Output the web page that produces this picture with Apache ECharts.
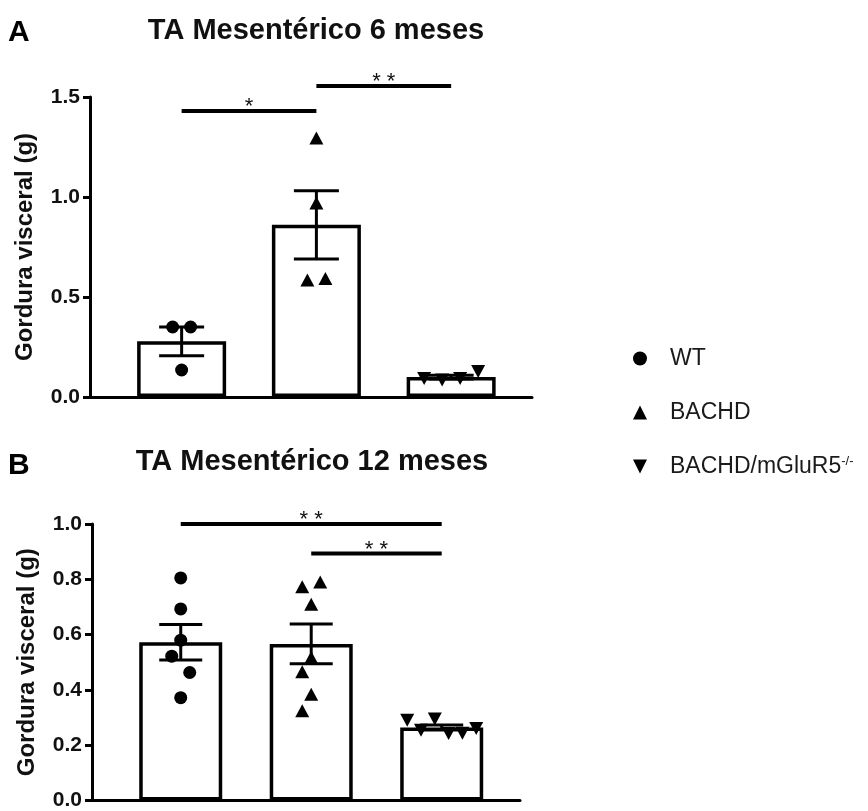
<!DOCTYPE html>
<html>
<head>
<meta charset="utf-8">
<script src="https://cdn.jsdelivr.net/npm/echarts@6/dist/echarts.min.js"></script>
<style>
  html, body { margin: 0; padding: 0; background: #fff; }
  #chart { width: 868px; height: 811px; }
</style>
</head>
<body>
<div id="chart"></div>
<script>
// ---------------- DATA ----------------
const groupNames = ['WT', 'BACHD', 'BACHD/mGluR5-/-'];
const groupX = [1, 2, 3];

// Panel A: 6 months (individual animals, g)
const wt6 = [0.35, 0.35, 0.135];
const bachd6 = [1.295, 0.97, 0.585, 0.593];
const mglu6 = [0.093, 0.085, 0.093, 0.127];

// Panel B: 12 months (individual animals, g)
const wt12 = [0.805, 0.693, 0.58, 0.522, 0.463, 0.372];
const bachd12 = [0.773, 0.79, 0.71, 0.517, 0.466, 0.384, 0.325];
const mglu12 = [0.29, 0.254, 0.295, 0.242, 0.243, 0.26];

// significance brackets: [fromGroup, toGroup, y value]
const sig6 = [[1, 2, 1.43], [2, 3, 1.555]];
const sig6Labels = ['*', '**'];
const sig12 = [[1, 3, 1.0], [2, 3, 0.893]];
const sig12Labels = ['**', '**'];

// y axis ticks
const ticks6 = [0, 0.5, 1.0, 1.5];
const ticks12 = [0, 0.2, 0.4, 0.6, 0.8, 1.0];

const titles = ['TA Mesentérico 6 meses', 'TA Mesentérico 12 meses'];
const panelLetters = ['A', 'B'];
const yName = 'Gordura visceral (g)';

// ---------------- HELPERS ----------------
const FONT = '"Liberation Sans", Arial, Helvetica, sans-serif';
function mean(a) { return a.reduce((s, v) => s + v, 0) / a.length; }
function sem(a) {
  const m = mean(a);
  const sd = Math.sqrt(a.reduce((s, v) => s + (v - m) * (v - m), 0) / (a.length - 1));
  return sd / Math.sqrt(a.length);
}
// Prism-like horizontal spreading of points that would overlap (pixel offsets)
function spread(values, pxPerUnit, barPx) {
  const n = values.length;
  const order = values.map((v, i) => i).sort((a, b) => values[b] - values[a]);
  const rows = [];
  for (const i of order) {
    const last = rows[rows.length - 1];
    if (last && (values[last[last.length - 1]] - values[i]) * pxPerUnit < 12) last.push(i);
    else rows.push([i]);
  }
  const off = new Array(n).fill(0);
  let prev = null;
  for (const row of rows) {
    if (row.length > 1) {
      row.sort((a, b) => a - b);
      const step = Math.min(18, (barPx - 14) / (row.length - 1));
      row.forEach((i, k) => { off[i] = (k - (row.length - 1) / 2) * step; });
    } else if (prev && prev.length === 1 &&
               (values[prev[0]] - values[row[0]]) * pxPerUnit < 17) {
      off[row[0]] = off[prev[0]] < 0 ? 9 : -9;
    }
    prev = row;
  }
  return off;
}

const panels = [
  { groups: [wt6, bachd6, mglu6], sig: sig6, sigLabels: sig6Labels, ticks: ticks6,
    grid: { left: 90, top: 97, width: 442, height: 300 }, barWidth: 89, cap: 45 },
  { groups: [wt12, bachd12, mglu12], sig: sig12, sigLabels: sig12Labels, ticks: ticks12,
    grid: { left: 92, top: 524, width: 428, height: 283 }, barWidth: 83, cap: 43 }
];

const symbols = ['circle', 'path://M5,0L10,10L0,10Z', 'path://M0,0L10,0L5,10Z'];
const symbolSizes = [13, [14, 13], [14, 13]];

// ---------------- CHART ----------------
const chart = echarts.init(document.getElementById('chart'), null, { renderer: 'canvas' });

const option = {
  animation: false,
  backgroundColor: '#fff',
  textStyle: { fontFamily: FONT },
  grid: panels.map(p => Object.assign({ containLabel: false }, p.grid)),
  xAxis: panels.map((p, i) => ({
    gridIndex: i, type: 'value', min: 0.32, max: 3.6,
    axisLine: { show: true, onZero: false, lineStyle: { color: '#000', width: 3 } },
    axisTick: { show: false }, axisLabel: { show: false }, splitLine: { show: false }
  })),
  yAxis: panels.map((p, i) => ({
    gridIndex: i, type: 'value',
    min: p.ticks[0], max: p.ticks[p.ticks.length - 1], interval: p.ticks[1] - p.ticks[0],
    axisLine: { show: true, lineStyle: { color: '#000', width: 3 } },
    axisTick: { show: true, length: 7, lineStyle: { color: '#000', width: 3 } },
    axisLabel: { fontSize: 21, fontWeight: 'bold', color: '#111', margin: 10,
                 fontFamily: FONT, formatter: v => v.toFixed(1) },
    splitLine: { show: false },
    name: yName, nameLocation: 'middle', nameGap: 53, nameRotate: 90,
    nameTextStyle: { fontSize: 24, fontWeight: 'bold', color: '#111', fontFamily: FONT }
  })),
  legend: {
    orient: 'vertical', left: 628, top: 342, itemWidth: 50, itemHeight: 14, itemGap: 31,
    selectedMode: false,
    data: groupNames.map((n, i) => ({ name: n, icon: symbols[i] })),
    formatter: name => name === 'BACHD/mGluR5-/-' ? '{b|BACHD/mGluR5}{sup|-/-}' : '{b|' + name + '}',
    textStyle: {
      color: '#1a1a1a', fontFamily: FONT,
      rich: {
        b: { fontSize: 23, color: '#1a1a1a', fontFamily: FONT },
        sup: { fontSize: 13, color: '#1a1a1a', fontFamily: FONT, verticalAlign: 'top' }
      }
    }
  },
  graphic: [],
  series: []
};

panels.forEach((p, pi) => {
  // titles and panel letters
  option.graphic.push({
    type: 'text', x: 8, y: pi === 0 ? 33 : 466,
    style: { text: panelLetters[pi], font: 'bold 30px ' + FONT, fill: '#000',
             align: 'left', verticalAlign: 'middle' }
  });
  option.graphic.push({
    type: 'text', x: pi === 0 ? 316 : 312, y: pi === 0 ? 31 : 462,
    style: { text: titles[pi], font: 'bold 29px ' + FONT, fill: '#111',
             align: 'center', verticalAlign: 'middle' }
  });

  const means = p.groups.map(mean);
  const sems = p.groups.map(sem);

  option.series.push({
    type: 'bar', name: 'mean' + pi, xAxisIndex: pi, yAxisIndex: pi,
    data: means.map((m, i) => [groupX[i], m]),
    barWidth: p.barWidth, silent: true, z: 2,
    itemStyle: { color: '#fff', borderColor: '#000', borderWidth: 3.5 }
  });

  option.series.push({
    type: 'custom', name: 'sem' + pi, xAxisIndex: pi, yAxisIndex: pi, silent: true, z: 3,
    data: means.map((m, i) => [groupX[i], m - sems[i], m + sems[i]]),
    encode: { x: 0, y: [1, 2] },
    renderItem: (params, api) => {
      const lo = api.coord([api.value(0), api.value(1)]);
      const hi = api.coord([api.value(0), api.value(2)]);
      const h = p.cap / 2;
      const st = { stroke: '#000', lineWidth: 3 };
      return { type: 'group', children: [
        { type: 'line', shape: { x1: lo[0], y1: lo[1], x2: hi[0], y2: hi[1] }, style: st },
        { type: 'line', shape: { x1: lo[0] - h, y1: lo[1], x2: lo[0] + h, y2: lo[1] }, style: st },
        { type: 'line', shape: { x1: hi[0] - h, y1: hi[1], x2: hi[0] + h, y2: hi[1] }, style: st }
      ]};
    }
  });

  option.series.push({
    type: 'custom', name: 'sig' + pi, xAxisIndex: pi, yAxisIndex: pi, silent: true, z: 3,
    data: p.sig,
    encode: { x: [0, 1], y: 2 },
    renderItem: (params, api) => {
      const a = api.coord([api.value(0), api.value(2)]);
      const b = api.coord([api.value(1), api.value(2)]);
      const label = p.sigLabels[params.dataIndex].split('').join(' ');
      return { type: 'group', children: [
        { type: 'line', shape: { x1: a[0], y1: a[1], x2: b[0], y2: b[1] },
          style: { stroke: '#000', lineWidth: 4 } },
        { type: 'text', x: (a[0] + b[0]) / 2, y: a[1] - 4,
          style: { text: label, font: '22px ' + FONT, fill: '#111',
                   align: 'center', verticalAlign: 'middle' } }
      ]};
    }
  });
});

chart.setOption(option);

// second pass: individual points, spread using the axes' own pixel scale
const pointSeries = [];
panels.forEach((p, pi) => {
  const y0 = chart.convertToPixel({ gridIndex: pi }, [1, 0])[1];
  const y1 = chart.convertToPixel({ gridIndex: pi }, [1, 1])[1];
  const pxPerUnit = y0 - y1;
  p.groups.forEach((vals, g) => {
    const off = spread(vals, pxPerUnit, p.barWidth);
    pointSeries.push({
      type: 'scatter', name: groupNames[g], xAxisIndex: pi, yAxisIndex: pi, z: 4, silent: true,
      symbol: symbols[g], symbolSize: symbolSizes[g],
      itemStyle: { color: '#000', opacity: 1 },
      data: vals.map((v, k) => ({ value: [groupX[g], v], symbolOffset: [off[k], 0] }))
    });
  });
});
chart.setOption({ series: option.series.concat(pointSeries) });
</script>
</body>
</html>
